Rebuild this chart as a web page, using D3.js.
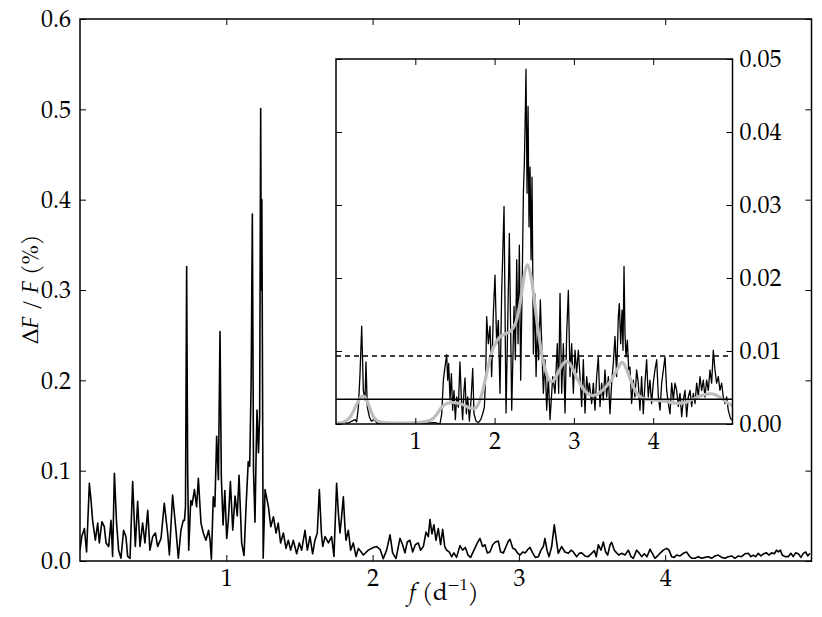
<!DOCTYPE html>
<html><head><meta charset="utf-8">
<script src="https://cdn.jsdelivr.net/npm/d3@7/dist/d3.min.js"></script>
<style>
html,body{margin:0;padding:0;background:#fff;}
</style></head>
<body><svg id="c" width="822" height="617"></svg>
<script>
// ---------- DATA ----------
const mainXTicks = [1, 2, 3, 4];
const mainYTicks = [0, 0.1, 0.2, 0.3, 0.4, 0.5, 0.6];
const insetXTicks = [1, 2, 3, 4];
const insetYTicks = [0, 0.01, 0.02, 0.03, 0.04, 0.05];
const significance = [0.0093];      // dashed line
const noiseLevel = [0.0034];        // solid line

// main amplitude spectrum [frequency d^-1, amplitude %]
const mainSpectrum = [
[0.000,0.012],[0.012,0.027],[0.030,0.036],[0.045,0.010],[0.064,0.086],[0.077,0.064],[0.086,0.045],
[0.105,0.023],[0.121,0.042],[0.132,0.020],[0.150,0.0435],[0.166,0.038],[0.178,0.020],[0.196,0.016],
[0.212,0.045],[0.223,0.005],[0.235,0.097],[0.250,0.042],[0.264,0.012],[0.280,0.003],[0.298,0.034],
[0.314,0.027],[0.326,0.005],[0.342,0.003],[0.360,0.088],[0.378,0.016],[0.394,0.066],[0.410,0.016],
[0.428,0.042],[0.444,0.020],[0.463,0.056],[0.478,0.012],[0.497,0.027],[0.515,0.031],[0.531,0.016],
[0.554,0.025],[0.576,0.064],[0.599,0.031],[0.611,0.0066],[0.633,0.073],[0.656,0.034],[0.672,0.003],
[0.690,0.034],[0.706,0.045],[0.714,0.045],[0.721,0.060],[0.729,0.326],[0.736,0.10],[0.743,0.012],
[0.757,0.067],[0.766,0.062],[0.782,0.079],[0.797,0.060],[0.809,0.0915],[0.827,0.042],[0.843,0.031],
[0.861,0.023],[0.879,0.034],[0.889,0.023],[0.898,0.002],[0.911,0.071],[0.922,0.060],[0.934,0.138],
[0.946,0.090],[0.957,0.254],[0.966,0.093],[0.978,0.040],[0.990,0.078],[1.003,0.025],[1.014,0.045],
[1.028,0.088],[1.044,0.034],[1.060,0.072],[1.075,0.050],[1.087,0.095],[1.105,0.020],[1.121,0.006],
[1.135,0.060],[1.150,0.110],[1.160,0.105],[1.170,0.200],[1.178,0.384],[1.186,0.100],[1.196,0.043],
[1.204,0.120],[1.210,0.167],[1.220,0.120],[1.228,0.160],[1.235,0.501],[1.239,0.300],[1.243,0.400],
[1.252,0.003],[1.265,0.079],[1.288,0.060],[1.304,0.038],[1.322,0.049],[1.340,0.031],[1.355,0.042],
[1.371,0.020],[1.390,0.031],[1.408,0.014],[1.424,0.023],[1.440,0.012],[1.458,0.023],[1.481,0.008],
[1.499,0.020],[1.515,0.012],[1.538,0.034],[1.554,0.012],[1.572,0.027],[1.590,0.008],[1.606,0.023],
[1.622,0.031],[1.636,0.079],[1.650,0.031],[1.659,0.016],[1.675,0.027],[1.698,0.020],[1.720,0.027],
[1.736,0.005],[1.754,0.086],[1.766,0.053],[1.777,0.031],[1.786,0.045],[1.800,0.071],[1.811,0.038],
[1.818,0.023],[1.834,0.034],[1.850,0.012],[1.868,0.020],[1.887,0.005],[1.903,0.014],[1.937,0.0066],
[1.971,0.012],[2.005,0.015],[2.028,0.016],[2.051,0.013],[2.073,0.0026],[2.096,0.012],[2.119,0.029],
[2.137,0.009],[2.160,0.0026],[2.187,0.025],[2.205,0.018],[2.221,0.009],[2.237,0.021],[2.255,0.023],
[2.274,0.010],[2.292,0.018],[2.312,0.020],[2.328,0.012],[2.347,0.016],[2.365,0.032],[2.381,0.027],
[2.392,0.046],[2.406,0.030],[2.419,0.040],[2.433,0.023],[2.449,0.036],[2.465,0.018],[2.479,0.035],
[2.493,0.016],[2.506,0.012],[2.524,0.010],[2.540,0.0047],[2.556,0.009],[2.574,0.004],[2.597,0.017],
[2.615,0.012],[2.634,0.015],[2.652,0.0066],[2.670,0.004],[2.693,0.012],[2.716,0.020],[2.734,0.025],
[2.752,0.016],[2.768,0.018],[2.784,0.009],[2.802,0.010],[2.821,0.018],[2.839,0.021],[2.859,0.022],
[2.875,0.010],[2.894,0.009],[2.912,0.016],[2.928,0.022],[2.939,0.024],[2.958,0.014],[2.974,0.013],
[2.990,0.009],[3.008,0.0066],[3.026,0.010],[3.044,0.009],[3.062,0.013],[3.076,0.015],[3.094,0.009],
[3.112,0.004],[3.133,0.0048],[3.151,0.012],[3.167,0.016],[3.178,0.025],[3.192,0.012],[3.206,0.0048],
[3.224,0.016],[3.242,0.040],[3.256,0.023],[3.269,0.0085],[3.292,0.016],[3.315,0.010],[3.338,0.0085],
[3.356,0.012],[3.372,0.010],[3.395,0.0048],[3.413,0.0085],[3.429,0.009],[3.452,0.0056],[3.474,0.0048],
[3.497,0.0085],[3.516,0.0114],[3.529,0.0048],[3.543,0.018],[3.561,0.012],[3.577,0.021],[3.593,0.010],
[3.607,0.0066],[3.623,0.018],[3.634,0.0207],[3.652,0.012],[3.668,0.009],[3.684,0.0066],[3.702,0.0085],
[3.725,0.0066],[3.748,0.012],[3.766,0.0048],[3.782,0.003],[3.805,0.012],[3.821,0.009],[3.839,0.0048],
[3.857,0.008],[3.876,0.0048],[3.896,0.013],[3.912,0.0085],[3.930,0.003],[3.948,0.0056],[3.964,0.0085],
[3.987,0.012],[4.010,0.014],[4.026,0.012],[4.044,0.0048],[4.062,0.004],[4.078,0.0066],[4.101,0.0056],
[4.124,0.0085],[4.146,0.010],[4.165,0.0056],[4.181,0.003],[4.203,0.003],[4.226,0.0048],[4.249,0.003],
[4.272,0.004],[4.295,0.0048],[4.318,0.003],[4.340,0.0056],[4.363,0.0066],[4.386,0.004],[4.408,0.003],
[4.431,0.0048],[4.454,0.0056],[4.477,0.003],[4.500,0.0056],[4.522,0.0048],[4.545,0.008],[4.568,0.0085],
[4.586,0.0048],[4.602,0.0066],[4.618,0.0048],[4.636,0.0085],[4.654,0.0056],[4.672,0.008],[4.693,0.009],
[4.709,0.0066],[4.727,0.009],[4.746,0.008],[4.761,0.012],[4.773,0.010],[4.787,0.012],[4.800,0.0066],
[4.819,0.0048],[4.841,0.0048],[4.859,0.0085],[4.875,0.0048],[4.891,0.009],[4.910,0.008],[4.928,0.004],
[4.944,0.0085],[4.960,0.010],[4.974,0.0056],[4.990,0.0085]
];

// inset residual spectrum [frequency, amplitude]
const insetSpectrum = [
[0.000,0.0002],[0.050,0.0001],[0.100,0.0003],[0.150,0.0001],[0.200,0.0004],[0.240,0.0006],[0.260,0.0003],
[0.282,0.0023],[0.303,0.0069],[0.324,0.0134],[0.345,0.0046],[0.366,0.0033],[0.378,0.0085],[0.395,0.0023],
[0.420,0.0010],[0.445,0.0004],[0.480,0.0006],[0.520,0.0001],[0.700,0.0001],[0.900,0.0002],[1.100,0.0001],
[1.250,0.0002],
[1.311,0.0000],[1.333,0.0014],[1.354,0.0060],[1.375,0.0079],[1.396,0.0095],[1.408,0.0060],[1.421,0.0083],
[1.438,0.0033],[1.455,0.0069],[1.471,0.0019],[1.488,0.0046],[1.505,0.0006],[1.522,0.0037],[1.543,0.0023],
[1.563,0.0085],[1.580,0.0037],[1.597,0.0006],[1.614,0.0046],[1.627,0.0063],[1.644,0.0014],[1.661,0.0037],
[1.682,0.0004],[1.703,0.0033],[1.724,0.0076],[1.740,0.0014],[1.766,0.0004],[1.795,0.0002],[1.825,0.0006],
[1.850,0.0014],[1.871,0.0023],[1.888,0.0069],[1.900,0.0147],[1.921,0.0110],[1.942,0.0134],[1.963,0.0065],
[1.984,0.0151],[2.005,0.0204],[2.026,0.0110],[2.047,0.0142],[2.068,0.0042],[2.089,0.0179],[2.119,0.0298],
[2.144,0.0015],[2.165,0.0134],[2.186,0.0261],[2.216,0.0019],[2.245,0.0161],[2.262,0.0088],[2.279,0.0225],
[2.296,0.0110],[2.312,0.0245],[2.329,0.0060],[2.346,0.0179],[2.363,0.0316],[2.375,0.0357],[2.388,0.0430],
[2.396,0.0486],[2.409,0.0316],[2.422,0.0435],[2.434,0.0270],[2.447,0.0352],[2.460,0.0225],[2.472,0.0338],
[2.489,0.0096],[2.506,0.0179],[2.523,0.0065],[2.540,0.0134],[2.556,0.0088],[2.577,0.0170],[2.594,0.0110],
[2.615,0.0042],[2.636,0.0088],[2.657,0.0019],[2.678,0.0065],[2.699,0.0006],[2.733,0.0065],[2.762,0.0042],
[2.791,0.0110],[2.808,0.0042],[2.825,0.0179],[2.846,0.0042],[2.867,0.0110],[2.888,0.0015],[2.909,0.0124],
[2.930,0.0183],[2.951,0.0065],[2.972,0.0110],[2.993,0.0042],[3.014,0.0101],[3.035,0.0070],[3.056,0.0101],
[3.077,0.0065],[3.098,0.0024],[3.119,0.0088],[3.140,0.0015],[3.161,0.0065],[3.182,0.0042],[3.195,0.0056],
[3.224,0.0028],[3.245,0.0056],[3.266,0.0019],[3.287,0.0065],[3.308,0.0092],[3.329,0.0024],[3.350,0.0056],
[3.371,0.0033],[3.392,0.0074],[3.413,0.0037],[3.434,0.0065],[3.455,0.0014],[3.476,0.0056],[3.497,0.0083],
[3.518,0.0120],[3.539,0.0065],[3.560,0.0147],[3.573,0.0165],[3.590,0.0110],[3.607,0.0156],[3.619,0.0101],
[3.632,0.0216],[3.644,0.0124],[3.657,0.0092],[3.674,0.0115],[3.691,0.0074],[3.707,0.0078],[3.728,0.0028],
[3.749,0.0060],[3.770,0.0037],[3.791,0.0074],[3.812,0.0056],[3.833,0.0019],[3.854,0.0065],[3.875,0.0014],
[3.896,0.0056],[3.917,0.0088],[3.938,0.0037],[3.959,0.0060],[3.980,0.0028],[4.001,0.0056],[4.022,0.0074],
[4.044,0.0088],[4.065,0.0037],[4.086,0.0019],[4.107,0.0056],[4.128,0.0074],[4.149,0.0092],[4.170,0.0046],
[4.191,0.0028],[4.212,0.0014],[4.233,0.0056],[4.254,0.0033],[4.275,0.0056],[4.296,0.0046],[4.317,0.0024],
[4.338,0.0042],[4.359,0.0010],[4.380,0.0033],[4.401,0.0046],[4.422,0.0010],[4.443,0.0037],[4.464,0.0046],
[4.485,0.0024],[4.506,0.0042],[4.527,0.0028],[4.548,0.0056],[4.569,0.0037],[4.590,0.0065],[4.611,0.0046],
[4.632,0.0060],[4.653,0.0037],[4.674,0.0060],[4.695,0.0046],[4.716,0.0074],[4.737,0.0056],[4.758,0.0101],
[4.779,0.0074],[4.800,0.0056],[4.821,0.0065],[4.842,0.0046],[4.863,0.0056],[4.884,0.0037],[4.905,0.0028],
[4.926,0.0037],[4.947,0.0019],[4.968,0.0010],[4.989,0.0005]
];

// smoothed envelope (grey)
const insetSmooth = [
[0.00,0.0001],[0.10,0.0002],[0.18,0.0008],[0.24,0.0022],[0.30,0.0036],[0.345,0.0040],[0.39,0.0034],
[0.44,0.0016],[0.50,0.0004],[0.60,0.0001],[1.00,0.0001],[1.20,0.0004],[1.27,0.0012],[1.33,0.0024],
[1.40,0.0029],[1.50,0.0030],[1.60,0.0027],[1.69,0.0021],[1.77,0.0020],[1.83,0.0035],[1.90,0.0069],
[1.95,0.0095],[2.00,0.0110],[2.07,0.0121],[2.15,0.0124],[2.22,0.0128],[2.28,0.0140],[2.33,0.0170],
[2.38,0.0210],[2.41,0.0222],[2.45,0.0210],[2.49,0.0180],[2.55,0.0125],[2.61,0.0085],[2.67,0.0062],
[2.72,0.0055],[2.78,0.0065],[2.85,0.0082],[2.91,0.0088],[2.97,0.0080],[3.03,0.0064],[3.10,0.0050],
[3.18,0.0040],[3.25,0.0038],[3.32,0.0042],[3.40,0.0050],[3.46,0.0058],[3.54,0.0073],[3.60,0.0087],
[3.64,0.0082],[3.69,0.0068],[3.75,0.0050],[3.81,0.0038],[3.90,0.0033],[4.00,0.0033],[4.10,0.0032],
[4.20,0.0030],[4.30,0.0028],[4.40,0.0029],[4.50,0.0034],[4.60,0.0039],[4.70,0.0042],[4.78,0.0041],
[4.85,0.0036],[4.92,0.0030],[5.00,0.0025]
];

// ---------- DRAW ----------
const FONT = "'TeX Gyre Pagella', 'Liberation Serif', serif";
const svg = d3.select("#c");
const M = {l:80, r:811.5, t:19, b:561};
const I = {l:336, r:732.5, t:59, b:424};

const xM = d3.scaleLinear().domain([0,5]).range([M.l, M.r]);
const yM = d3.scaleLinear().domain([0,0.6]).range([M.b, M.t]);
const xI = d3.scaleLinear().domain([0,5]).range([I.l, I.r]);
const yI = d3.scaleLinear().domain([0,0.05]).range([I.b, I.t]);

const defs = svg.append("defs");
defs.append("clipPath").attr("id","cm").append("rect")
  .attr("x",M.l).attr("y",M.t).attr("width",M.r-M.l).attr("height",M.b-M.t);
defs.append("clipPath").attr("id","ci").append("rect")
  .attr("x",I.l).attr("y",I.t).attr("width",I.r-I.l).attr("height",I.b-I.t);

// main line
svg.append("path").datum(mainSpectrum)
  .attr("clip-path","url(#cm)")
  .attr("fill","none").attr("stroke","#000").attr("stroke-width",1.6).attr("stroke-linejoin","round")
  .attr("d", d3.line().x(d=>xM(d[0])).y(d=>yM(d[1])));

function axes(g, x, y, box, xt, yt, yfmt, ylabelSide, fs){
  const tk = 6;
  const ax = (gen, tr) => g.append("g").attr("transform",tr).call(gen)
      .call(s=>s.select(".domain").remove())
      .call(s=>s.selectAll(".tick line").attr("stroke","#000").attr("stroke-width",1))
      .call(s=>s.selectAll("text").style("font-family",FONT).style("font-size",fs+"px").attr("fill","#000"));
  ax(d3.axisBottom(x).tickValues(xt).tickFormat(d3.format("d")).tickSizeInner(-tk).tickSizeOuter(0).tickPadding(tk+2), `translate(0,${box.b})`);
  ax(d3.axisTop(x).tickValues(xt).tickFormat("").tickSizeInner(-tk).tickSizeOuter(0), `translate(0,${box.t})`);
  ax(d3.axisLeft(y).tickValues(yt).tickFormat(ylabelSide==="left"?d3.format(yfmt):"").tickSizeInner(-tk).tickSizeOuter(0).tickPadding(tk+3), `translate(${box.l},0)`);
  ax(d3.axisRight(y).tickValues(yt).tickFormat(ylabelSide==="right"?d3.format(yfmt):"").tickSizeInner(-tk).tickSizeOuter(0).tickPadding(tk+1), `translate(${box.r},0)`);
  g.append("rect").attr("x",box.l).attr("y",box.t).attr("width",box.r-box.l).attr("height",box.b-box.t)
    .attr("fill","none").attr("stroke","#000").attr("stroke-width",1.5);
}

axes(svg.append("g"), xM, yM, M, mainXTicks, mainYTicks, ".1f", "left", 24);

// inset
const gi = svg.append("g");
gi.append("rect").attr("x",I.l).attr("y",I.t).attr("width",I.r-I.l).attr("height",I.b-I.t).attr("fill","#fff");
const gic = gi.append("g").attr("clip-path","url(#ci)");
gic.append("path").datum(insetSpectrum)
  .attr("fill","none").attr("stroke","#000").attr("stroke-width",1.3).attr("stroke-linejoin","round")
  .attr("d", d3.line().x(d=>xI(d[0])).y(d=>yI(d[1])));
gic.append("path").datum(insetSmooth)
  .attr("fill","none").attr("stroke","#bdbdbd").attr("stroke-width",3.2)
  .attr("d", d3.line().curve(d3.curveBasis).x(d=>xI(d[0])).y(d=>yI(d[1])));
gic.selectAll(".sig").data(significance).join("line")
  .attr("x1",I.l).attr("x2",I.r).attr("y1",d=>yI(d)).attr("y2",d=>yI(d))
  .attr("stroke","#000").attr("stroke-width",1.5).attr("stroke-dasharray","5,4");
gic.selectAll(".noise").data(noiseLevel).join("line")
  .attr("x1",I.l).attr("x2",I.r).attr("y1",d=>yI(d)).attr("y2",d=>yI(d))
  .attr("stroke","#000").attr("stroke-width",1.5);
axes(gi, xI, yI, I, insetXTicks, insetYTicks, ".2f", "right", 24);

// axis titles
const yl = svg.append("text").attr("transform","translate(38,289) rotate(-90)")
  .attr("text-anchor","middle").style("font-family",FONT).style("font-size","23px");
yl.append("tspan").text("Δ");
yl.append("tspan").attr("font-style","italic").text("F");
yl.append("tspan").text(" / ");
yl.append("tspan").attr("font-style","italic").text("F");
yl.append("tspan").text(" (%)");

const xl = svg.append("text").attr("x",444).attr("y",600).attr("text-anchor","middle")
  .style("font-family",FONT).style("font-size","24px");
xl.append("tspan").attr("font-style","italic").text("f");
xl.append("tspan").text(" (d");
xl.append("tspan").style("font-size","16px").attr("dy",-10).text("−1");
xl.append("tspan").attr("dy",10).text(")");
</script></body></html>
